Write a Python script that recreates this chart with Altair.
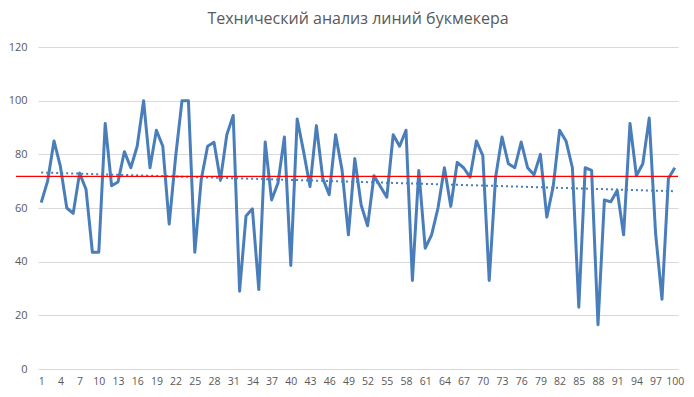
import altair as alt
import pandas as pd

title_text = "Технический анализ линий букмекера"

games = list(range(1, 101))
line_values = [
    62, 70, 85, 75.5, 60, 58, 73, 67, 43.5, 43.5,
    91.5, 68.3, 69.7, 81, 75, 83, 100, 75, 89, 83,
    54, 79, 100, 100, 43.5, 70.5, 83, 84.5, 70.3, 87.3,
    94.5, 29, 57, 59.7, 29.6, 84.6, 63, 69.3, 86.5, 38.6,
    93.2, 81, 68, 90.7, 71, 65, 87.3, 74.3, 50, 78.4,
    61, 53.4, 72, 68, 64, 87.3, 83, 89, 33, 74,
    45, 50, 60, 75, 60.6, 77, 75, 71.5, 85, 79.5,
    33, 71.5, 86.5, 76.5, 75, 84.6, 75, 72.4, 80, 56.6,
    68, 89, 85, 75, 23, 75, 74, 16.5, 63, 62.3,
    66.5, 50, 91.5, 72, 76.5, 93.5, 50.5, 26, 71, 75,
]
reference_level = [71.8]
x_tick_labels = list(range(1, 101, 3))
y_ticks = [0, 20, 40, 60, 80, 100, 120]

df = pd.DataFrame({"game": games, "value": line_values})
ref_df = pd.DataFrame({"level": reference_level})

FONT = "Open Sans"
LABEL_COLOR = "#595959"
BLUE = "#4a7ebb"

x_scale = alt.Scale(domain=[0.5, 100.5], nice=False, zero=False)
y_scale = alt.Scale(domain=[0, 120], nice=False)

x_axis = alt.Axis(
    values=x_tick_labels, title=None, grid=False, domain=False, ticks=False,
    labelPadding=7, labelFontSize=10.5, labelColor=LABEL_COLOR, labelFont=FONT,
    labelOverlap=False, labelBound=False, labelFlush=False,
)
y_axis = alt.Axis(
    values=y_ticks, title=None, grid=True, gridColor="#d9d9d9", gridWidth=1,
    domain=False, ticks=False, labelPadding=11, labelFontSize=11,
    labelColor=LABEL_COLOR, labelFont=FONT, labelOverlap=False,
)

base = alt.Chart(df)

main_line = base.mark_line(color=BLUE, strokeWidth=3, strokeJoin="round").encode(
    x=alt.X("game:Q", scale=x_scale, axis=x_axis),
    y=alt.Y("value:Q", scale=y_scale, axis=y_axis),
)

trend = base.transform_regression("game", "value", extent=[1, 100]).mark_line(
    color=BLUE, strokeWidth=2, strokeDash=[2, 3]
).encode(
    x=alt.X("game:Q", scale=x_scale, axis=x_axis),
    y=alt.Y("value:Q", scale=y_scale, axis=y_axis),
)

red = alt.Chart(ref_df).mark_rule(color="#ff0000", strokeWidth=1.3, clip=False).encode(
    y=alt.Y("level:Q", scale=y_scale, axis=y_axis), x=alt.value(-22), x2=alt.value(640)
)

chart = alt.layer(main_line, trend, red).properties(
    width=640,
    height=322,
    title=alt.TitleParams(
        title_text, font=FONT, fontSize=16, fontWeight="normal",
        color=LABEL_COLOR, anchor="middle", offset=14,
    ),
    autosize=alt.AutoSizeParams(type="none"),
    padding={"left": 30, "top": 39, "right": 8, "bottom": 20},
).configure_view(stroke=None)

chart.save("out.html", embed_options={"renderer": "svg", "actions": False})
